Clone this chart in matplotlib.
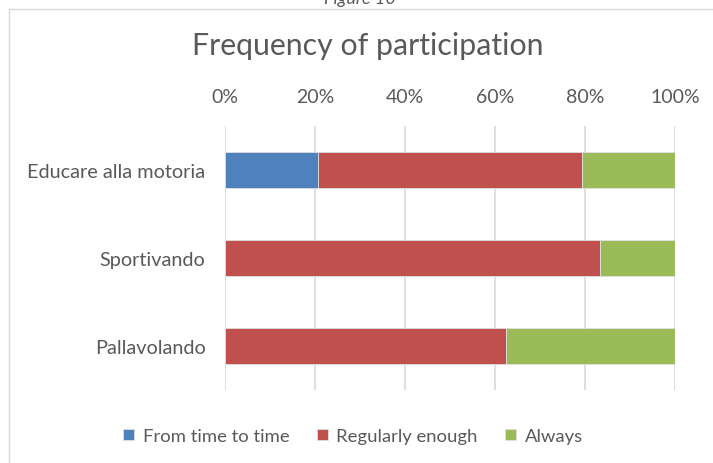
import matplotlib
matplotlib.use("Agg")
import matplotlib.pyplot as plt
from matplotlib.patches import Rectangle
from matplotlib.ticker import FuncFormatter

plt.rcParams['font.family'] = ['Lato', 'DejaVu Sans']

categories = ["Educare alla motoria", "Sportivando", "Pallavolando"]
series_names = ["From time to time", "Regularly enough", "Always"]
from_time_to_time = [20.6, 0.0, 0.0]
regularly_enough = [58.8, 83.3, 62.5]
always = [20.6, 16.7, 37.5]
tick_values = [0, 20, 40, 60, 80, 100]

colors = ["#4F81BD", "#C0504D", "#9BBB59"]
text_color = "#595959"
grid_color = "#D9D9D9"

W, H = 713, 464
fig = plt.figure(figsize=(W / 100, H / 100), dpi=100)

# outer chart frame
fig.patches.append(Rectangle((8.5 / W, -0.1), 1.2, 1 - 9.5 / H + 0.1,
                             transform=fig.transFigure, fill=False,
                             edgecolor="#D9D9D9", linewidth=1.0))

# caption above the frame
fig.text(0.505, 1 - 4 / H, "Figure 10", ha="center", va="baseline",
         fontsize=13, style="italic", color=text_color)

ax = fig.add_axes([225 / W, 1 - 391 / H, 450 / W, 264 / H])

y = list(range(len(categories)))
left = [0.0] * len(categories)
for name, vals, col in zip(series_names,
                           [from_time_to_time, regularly_enough, always],
                           colors):
    ax.barh(y, vals, left=left, height=0.41, color=col, label=name,
            edgecolor="#E0E0E0", linewidth=0.6, zorder=3)
    left = [l + v for l, v in zip(left, vals)]

ax.set_xlim(0, 100)
ax.set_ylim(len(categories) - 0.5, -0.5)
ax.set_yticks(y)
ax.set_yticklabels(categories)
ax.set_xticks(tick_values)
ax.xaxis.set_major_formatter(FuncFormatter(lambda v, p: f"{v:.0f}%"))
ax.xaxis.tick_top()
ax.tick_params(axis="x", length=0, pad=15, labelsize=14, colors=text_color)
ax.tick_params(axis="y", length=0, pad=14, labelsize=14.3, colors=text_color)
ax.grid(axis="x", color=grid_color, linewidth=1.2, zorder=0)
for s in ax.spines.values():
    s.set_visible(False)

fig.text(368 / W, 1 - 46 / H, "Frequency of participation", ha="center",
         va="center", fontsize=21.8, color=text_color)

leg = fig.legend(loc="center", bbox_to_anchor=(353 / W, 1 - 437 / H),
                 ncol=3, frameon=False, fontsize=13.3, handlelength=0.6,
                 handleheight=0.6, handletextpad=0.45, columnspacing=1.5)
for t in leg.get_texts():
    t.set_color(text_color)

fig.savefig("out.png", dpi=100)
